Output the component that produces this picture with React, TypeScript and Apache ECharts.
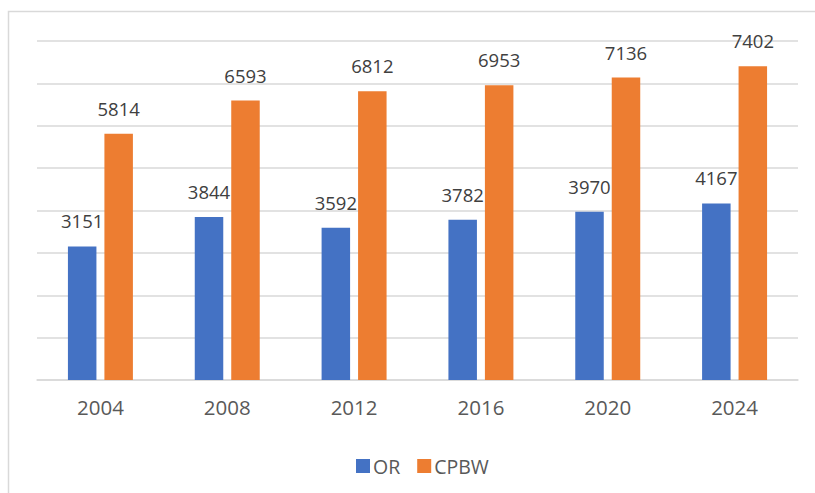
import React, { useEffect, useRef } from "react";
import * as echarts from "echarts";

const categories = ["2004", "2008", "2012", "2016", "2020", "2024"];
const orValues = [3151, 3844, 3592, 3782, 3970, 4167];
const cpbwValues = [5814, 6593, 6812, 6953, 7136, 7402];

export default function App() {
  const ref = useRef<HTMLDivElement>(null);
  useEffect(() => {
    if (!ref.current) return;
    const chart = echarts.init(ref.current, undefined, { renderer: "svg" });
    const font = "'Open Sans', 'Noto Sans', sans-serif";
    const label = {
      show: true,
      position: "top",
      distance: 16,
      color: "#404040",
      fontSize: 18.5,
      fontFamily: font,
    };
    chart.setOption({
      animation: false,
      backgroundColor: "#ffffff",
      textStyle: { fontFamily: font },
      graphic: [
        {
          type: "rect",
          shape: { x: 8.5, y: 11.5, width: 900, height: 600 },
          style: { fill: "none", stroke: "#d9d9d9", lineWidth: 1.5 },
          silent: true,
        },
      ],
      grid: { left: 37, right: 17, top: 41, bottom: 113, containLabel: false },
      legend: {
        left: 351,
        top: 451,
        itemWidth: 14,
        itemHeight: 14,
        itemGap: 17,
        icon: "rect",
        textStyle: { color: "#595959", fontSize: 19.5, fontFamily: font, padding: [0, 0, 0, -2] },
        data: ["OR", "CPBW"],
      },
      xAxis: {
        type: "category",
        data: categories,
        axisLine: { lineStyle: { color: "#d9d9d9", width: 1.5 } },
        axisTick: { show: false },
        axisLabel: { color: "#595959", fontSize: 20.5, margin: 16, fontFamily: font },
      },
      yAxis: {
        type: "value",
        min: 0,
        max: 8000,
        interval: 1000,
        axisLabel: { show: false },
        axisLine: { show: false },
        axisTick: { show: false },
        splitLine: { lineStyle: { color: "#d9d9d9", width: 1.5 } },
      },
      series: [
        {
          name: "OR",
          type: "bar",
          data: orValues,
          barWidth: 28.5,
          barGap: "28%",
          itemStyle: { color: "#4472C4" },
          label,
        },
        {
          name: "CPBW",
          type: "bar",
          data: cpbwValues,
          barWidth: 28.5,
          barGap: "28%",
          itemStyle: { color: "#ED7D31" },
          label,
        },
      ],
    });
    return () => chart.dispose();
  }, []);
  return (
    <div
      ref={ref}
      style={{ position: "fixed", left: 0, top: 0, width: 815, height: 493 }}
    />
  );
}
